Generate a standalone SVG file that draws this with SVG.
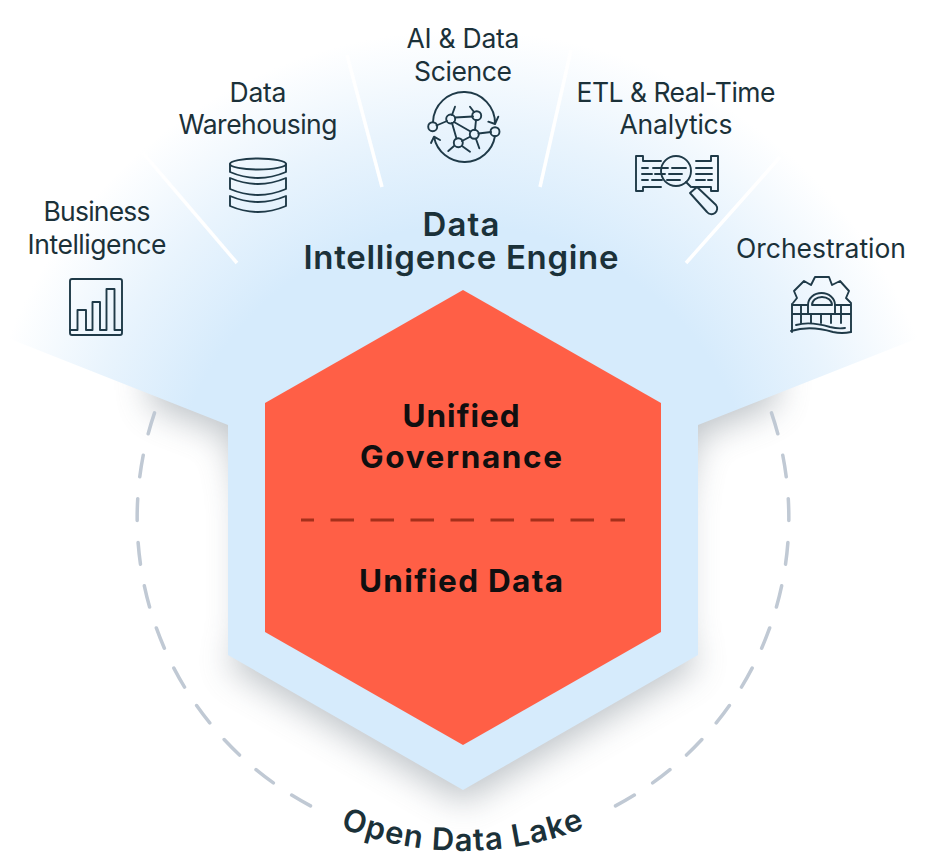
<svg xmlns="http://www.w3.org/2000/svg" width="926" height="863" viewBox="0 0 926 863">
<defs>
<radialGradient id="wing" gradientUnits="userSpaceOnUse" cx="463" cy="520" r="490">
<stop offset="0" stop-color="#d6ebfc"/><stop offset="0.6" stop-color="#d6ebfc"/><stop offset="0.8" stop-color="#e9f4fd"/><stop offset="1" stop-color="#ffffff"/>
</radialGradient>
<filter id="soft" x="-20%" y="-20%" width="140%" height="140%"><feGaussianBlur stdDeviation="17"/></filter>
</defs>
<style>
.lbl{font-family:"Inter","Liberation Sans",sans-serif;font-size:26.5px;font-weight:400;fill:#1b3139;text-anchor:middle}
.ttl{font-family:"Inter","Liberation Sans",sans-serif;font-size:33px;font-weight:600;fill:#1b3139;text-anchor:middle}
.hex{font-family:"Inter","Liberation Sans",sans-serif;font-size:31.5px;font-weight:700;fill:#100f10;text-anchor:middle}
.ic{fill:none;stroke:#1f3a48;stroke-width:1.9;stroke-linecap:round;stroke-linejoin:round}
.sep{stroke:#fff;stroke-width:3.5;fill:none}
.ring{fill:none;stroke:#c0c9d4;stroke-width:3.5;stroke-linecap:round;stroke-dasharray:21.8 22}
</style>
<rect width="926" height="863" fill="#fff"/>
<polygon points="150,405 228,435 242,500 242,640 228,665 463,802 698,665 684,640 684,500 698,435 776,405 776,350 150,350" fill="#6f7c85" opacity="0.45" filter="url(#soft)"/>
<g id="connectors">
<path class="ring" d="M310.500 805.900 A326 326 0 0 1 160 398"/>
<path class="ring" d="M615.500 805.900 A326 326 0 0 0 766 398"/>
</g>
<polygon id="backdrop" points="228,425 0,335 0,0 926,0 926,335 698,425 698,655 463,790 228,655" fill="url(#wing)"/>
<g id="separators">
<line class="sep" x1="143" y1="153" x2="237" y2="263"/>
<line class="sep" x1="347" y1="55" x2="382" y2="187"/>
<line class="sep" x1="571" y1="50" x2="540" y2="187"/>
<line class="sep" x1="780" y1="157" x2="686" y2="263"/>
</g>
<g id="node-bi">
<text class="lbl" x="97" y="221" textLength="107">Business</text>
<text class="lbl" x="97" y="254" textLength="139">Intelligence</text>
<rect class="ic" x="70" y="279" width="52" height="56" rx="2"/>
<path class="ic" d="M70 330H77.500V310H86V330H92.500V302H100V330H106.500V289H114.500V330H122"/>
</g>
<g id="node-dw">
<text class="lbl" x="258" y="102" textLength="57">Data</text>
<text class="lbl" x="258" y="134" textLength="159">Warehousing</text>
<ellipse class="ic" cx="258" cy="164" rx="28" ry="5.500"/>
<path class="ic" d="M230 164V172Q258 184 286 172V164M230 178Q258 190 286 178V189Q258 201 230 189ZM230 196Q258 208 286 196V206Q258 218 230 206Z"/>
</g>
<g id="node-ai">
<text class="lbl" x="463" y="48" textLength="113">AI &amp; Data</text>
<text class="lbl" x="463" y="81" textLength="98">Science</text>
<path class="ic" d="M433 122A31 31 0 0 1 495 124M495 136A31 31 0 0 1 434 137M488.300 121.700L495 124L498.300 116.700M431 143L434 136.700L440 140"/>
<path class="ic" d="M436.500 125.500L447 121M455 117.500L473 116.500M454 122L470.500 131.500M452 123L456.500 138.500M476 120L475 130M462 141L470.500 136.500M478.500 133.500L491 132M455 106.700L452 115M470 106.700L474 112M476 139L479.300 148.300M454 146L448.300 151M462 146L470 151.700"/>
<circle class="ic" cx="432.700" cy="126.700" r="4.500"/><circle class="ic" cx="450.700" cy="119" r="4.500"/><circle class="ic" cx="476.700" cy="115.700" r="4.500"/><circle class="ic" cx="474.300" cy="134.300" r="4.500"/><circle class="ic" cx="458.300" cy="142.700" r="4.500"/><circle class="ic" cx="495" cy="131.700" r="4.500"/>
</g>
<g id="node-etl">
<text class="lbl" x="676" y="102" textLength="199">ETL &amp; Real-Time</text>
<text class="lbl" x="676" y="134" textLength="113">Analytics</text>
<circle class="ic" cx="676" cy="171" r="15"/>
<path class="ic" d="M643 161V156H636V191H643V187H661M643 161H661M696 161H711V156H718V191H711V187H692"/>
<path class="ic" d="M642 168H648M653 168H668M672 168H686M696 168H712M642 174H652M655 174H665M669 174H682M696 174H712M642 180H648M652 180H662M667 180H680M696 180H705M708 180H712"/>
<path class="ic" d="M686 182L691 187"/>
<path class="ic" d="M697 187L690 193L707 212A5 5 0 0 0 716 205Z"/>
</g>
<g id="node-orch">
<text class="lbl" x="821" y="258" textLength="170">Orchestration</text>
<path class="ic" d="M793 303L797 298L794 291L804 281L811 285L815 277H829L832 285L840 281L849 291L846 298L851 303"/>
<path class="ic" d="M792 304V332M851 304V332M792 305H808M835 305H851M792 314H851M801 305V323M811 314V323M821 314V323M831 314V323M841 305V323"/>
<path class="ic" d="M808 314V305A13.500 12 0 0 1 835 305V314M812 305A10 8 0 0 1 832 305H812"/>
<path class="ic" d="M791 331Q810 325 833 332Q842 334 851 332M796 325Q810 321 830 327Q838 329 845 328"/>
</g>
<g id="node-engine">
<text class="ttl" x="461" y="236" textLength="77">Data</text>
<text class="ttl" x="461" y="269" textLength="315">Intelligence Engine</text>
</g>
<g id="node-core">
<polygon points="463,290 661,403 661,632 463,745 265,632 265,403" fill="#ff5f46"/>
<line x1="301" y1="520" x2="625" y2="520" stroke="#a5301b" stroke-width="3" stroke-dasharray="23.500 16.500" stroke-dashoffset="10.500"/>
<text class="hex" x="461" y="427" textLength="117">Unified</text>
<text class="hex" x="461" y="468" textLength="202">Governance</text>
<text class="hex" x="461" y="592" textLength="204">Unified Data</text>
</g>
<path id="lakepath" d="M234 760 A334 334 0 0 0 692 760" fill="none"/>
<g id="node-lake">
<text font-family="Inter, 'Liberation Sans', sans-serif" font-size="31" font-weight="600" letter-spacing="1.100" fill="#1b3139" text-anchor="middle"><textPath href="#lakepath" startOffset="50%">Open Data Lake</textPath></text>
</g>
</svg>
